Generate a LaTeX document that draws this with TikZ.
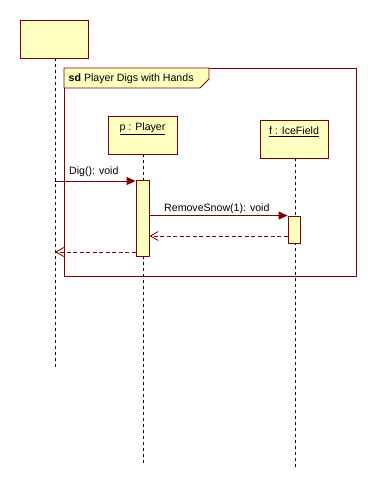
\documentclass[tikz,border=0pt]{standalone}
\usepackage{fontspec}
\setmainfont{Liberation Sans}
\usetikzlibrary{arrows.meta}
\definecolor{umlred}{HTML}{800000}
\definecolor{umlfill}{HTML}{FFFFC0}
\tikzset{
  objbox/.style={draw=umlred, fill=umlfill, line width=0.9pt, rectangle, inner sep=0pt},
  actbox/.style={draw=umlred, fill=umlfill, line width=0.9pt, rectangle, inner sep=0pt},
  lifeline/.style={black, line width=0.9pt, dash pattern=on 3pt off 3pt},
  callmsg/.style={umlred, line width=0.9pt, -{Triangle[length=9pt,width=8pt]}},
  retmsg/.style={umlred, line width=0.9pt, dash pattern=on 4pt off 2.5pt, -{Straight Barb[length=8pt,width=9pt,line width=0.8pt]}},
  lbl/.style={font=\fontsize{10.6}{12}\selectfont, inner sep=0pt, anchor=base west},
}
\begin{document}
\begin{tikzpicture}[x=1pt, y=-1pt]
  \useasboundingbox (0,0) rectangle (376,489);
  % lifelines
  \coordinate (l0end) at (55,368);
  \coordinate (lpend) at (143,465);
  \coordinate (lfend) at (295,469);
  \draw[lifeline] (55,58) -- (l0end);
  \draw[lifeline] (143,154) -- (lpend);
  \draw[lifeline] (295,158) -- (lfend);
  % anonymous caller
  \node[objbox, minimum width=68pt, minimum height=38pt] (caller) at (54,39) {};
  % combined fragment frame
  \draw[umlred, line width=0.9pt] (64,68) rectangle (356,276);
  \draw[umlred, line width=0.9pt, fill=umlfill] (64,68) -- (209,68) -- (209,79) -- (200,88) -- (64,88) -- cycle;
  \node[lbl] (title) at (68.5,82) {\textbf{sd} Player Digs with Hands};
  % objects
  \node[objbox, minimum width=69pt, minimum height=38pt] (p) at (142.5,135) {};
  \node[lbl, anchor=base] (ptext) at (142.5,131) {\underline{p : Player}};
  \node[objbox, minimum width=68pt, minimum height=38pt] (f) at (294,139) {};
  \node[lbl, anchor=base] (ftext) at (294,135) {\underline{f : IceField}};
  % activations
  \node[actbox, minimum width=13pt, minimum height=76pt] (pact) at (142.5,218) {};
  \node[actbox, minimum width=12pt, minimum height=27pt] (fact) at (294,229.5) {};
  % messages
  \coordinate (digsrc) at (55,181);
  \coordinate (digret) at (55,252);
  \draw[callmsg] (digsrc) -- (pact.west |- digsrc);
  \node[lbl] (diglbl) at (69,175) {Dig(): void};
  \draw[callmsg] (pact.east |- fact.north) -- (fact.north west);
  \node[lbl] (rslbl) at (164,211) {RemoveSnow(1): void};
  \draw[retmsg] (fact.west |- 0,236) -- (pact.east |- 0,236);
  \draw[retmsg] (pact.west |- digret) -- (digret);
\end{tikzpicture}
\end{document}
